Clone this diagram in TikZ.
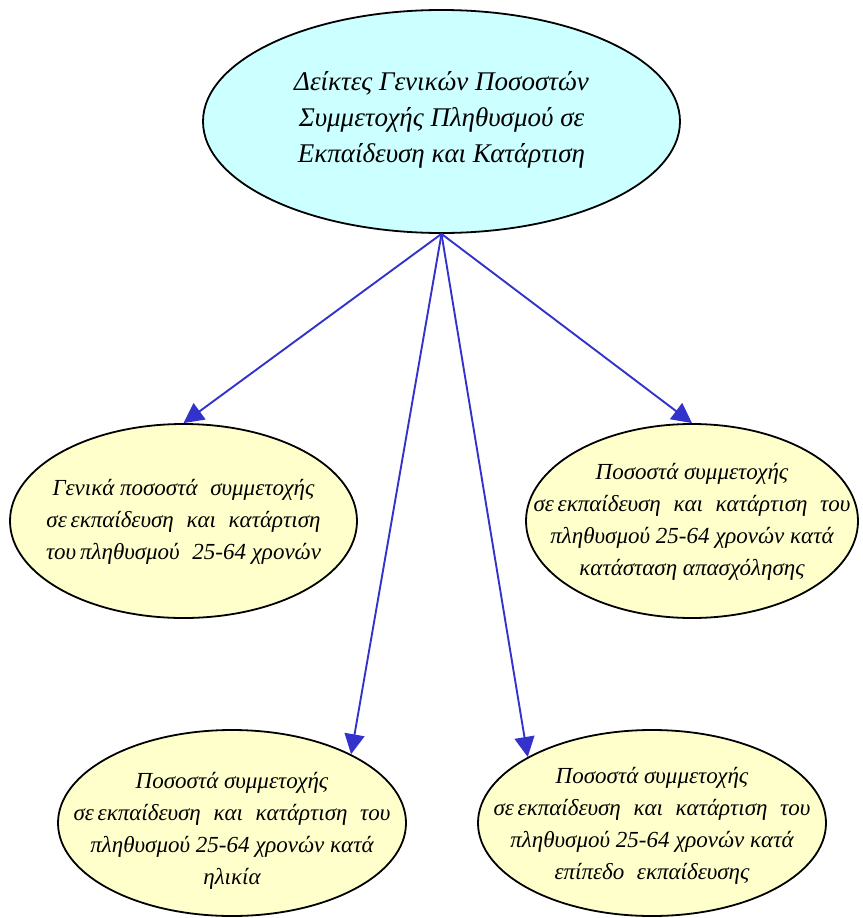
\documentclass[tikz,border=0pt]{standalone}
\usepackage{fontspec}
\setmainfont{Liberation Serif}
\usetikzlibrary{shapes.geometric,arrows.meta}
\definecolor{topfill}{HTML}{CCFFFF}
\definecolor{leaffill}{HTML}{FFFFCC}
\definecolor{arrowblue}{HTML}{3333CC}
\newcommand{\dsp}{\hspace{0.55em}}
\tikzset{
  bubble/.style={ellipse, draw=black, line width=1.8pt, inner sep=0pt},
  topbubble/.style={bubble, fill=topfill},
  leaf/.style={bubble, fill=leaffill},
  toptext/.style={align=center, inner sep=0pt, font=\itshape\fontsize{27}{36}\selectfont},
  leaftext/.style={align=center, inner sep=0pt, font=\itshape\fontsize{23}{32}\selectfont},
  link/.style={draw=arrowblue, line width=1.9pt, -{Triangle[length=20pt,width=20pt]}, fill=arrowblue}
}
\begin{document}
\begin{tikzpicture}[x=1pt,y=-1pt]
\useasboundingbox (0,0) rectangle (862,918);
\node[topbubble, minimum width=477pt, minimum height=223pt] (top) at (441.5,121.5) {};
\node[toptext] (toptxt) at (441.5,120)
  {Δείκτες Γενικών Ποσοστών\\Συμμετοχής Πληθυσμού σε\\Εκπαίδευση και Κατάρτιση};
\node[leaf, minimum width=347pt, minimum height=194pt] (gen) at (183.5,521) {};
\node[leaftext] (gentxt) at (183.5,522)
  {Γενικά ποσοστά\dsp συμμετοχής\\σε\,εκπαίδευση\dsp και\dsp κατάρτιση\\του\,πληθυσμού\dsp 25-64 χρονών};
\node[leaf, minimum width=332pt, minimum height=194pt] (emp) at (692,521) {};
\node[leaftext] (emptxt) at (692,522)
  {Ποσοστά συμμετοχής\\σε\,εκπαίδευση\dsp και\dsp κατάρτιση\dsp του\\πληθυσμού 25-64 χρονών κατά\\κατάσταση απασχόλησης};
\node[leaf, minimum width=348pt, minimum height=186pt] (age) at (232,823) {};
\node[leaftext] (agetxt) at (232,831)
  {Ποσοστά συμμετοχής\\σε\,εκπαίδευση\dsp και\dsp κατάρτιση\dsp του\\πληθυσμού 25-64 χρονών κατά\\ηλικία};
\node[leaf, minimum width=348pt, minimum height=186pt] (edu) at (652,823) {};
\node[leaftext] (edutxt) at (652,826)
  {Ποσοστά συμμετοχής\\σε\,εκπαίδευση\dsp και\dsp κατάρτιση\dsp του\\πληθυσμού 25-64 χρονών κατά\\επίπεδο\dsp εκπαίδευσης};
\draw[link] (top.south) -- (gen.north);
\draw[link] (top.south) -- (emp.north);
\draw[link] (top.south) -- (age.30);
\draw[link] (top.south) -- (edu.152);
\end{tikzpicture}
\end{document}
